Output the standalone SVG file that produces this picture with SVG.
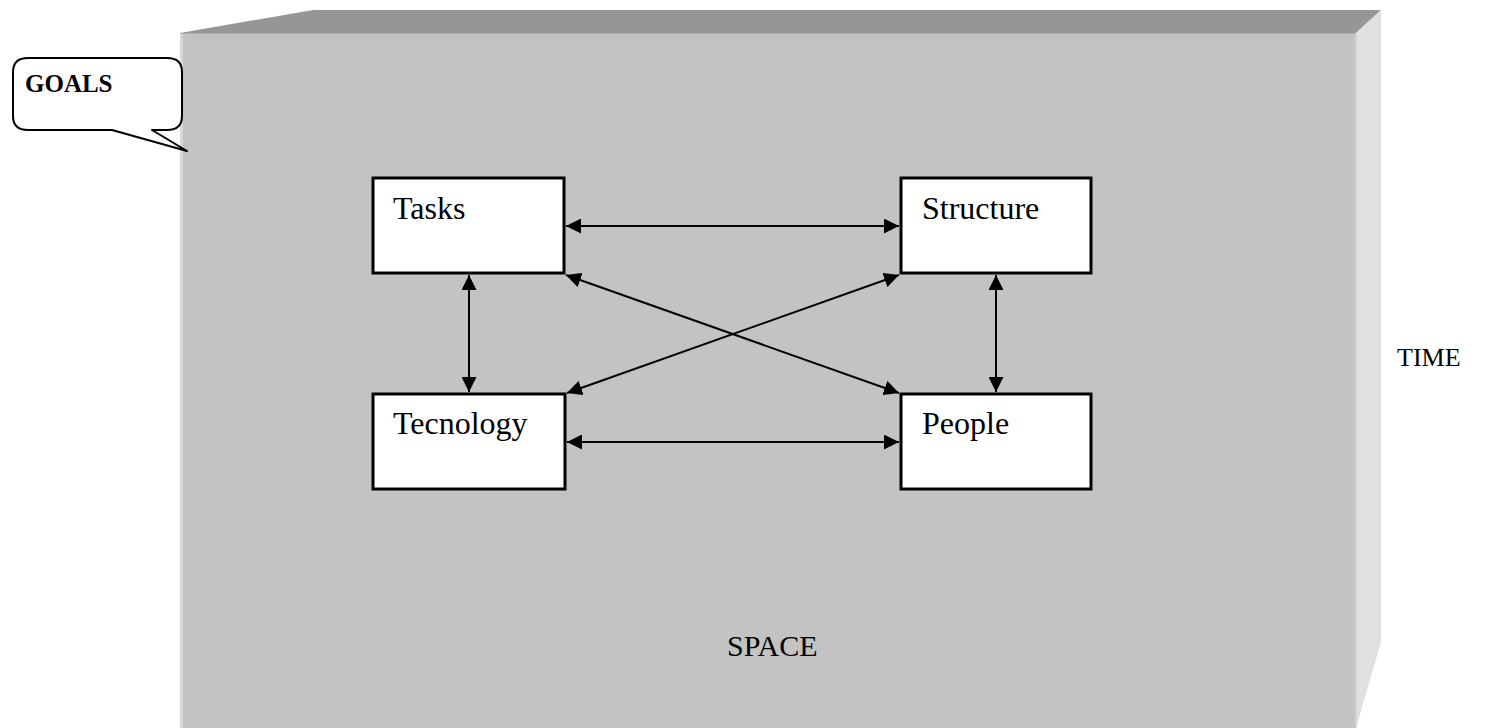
<svg xmlns="http://www.w3.org/2000/svg" width="1499" height="728" viewBox="0 0 1499 728">
<style>
.node rect{fill:#fff;stroke:#000;stroke-width:3}
.lbl{font-family:"Liberation Serif","Times New Roman",serif;font-size:32px;fill:#000}
.conn line{stroke:#000;stroke-width:2;marker-start:url(#ah);marker-end:url(#ah)}
</style>
<defs>
<marker id="ah" viewBox="0 0 15 15" refX="15" refY="7.5" markerWidth="15" markerHeight="15" markerUnits="userSpaceOnUse" orient="auto-start-reverse">
<path d="M0,0 L15,7.5 L0,15 Z" fill="#000"/>
</marker>
</defs>
<rect width="1499" height="728" fill="#fff"/>
<g id="box3d">
<polygon points="180,33 313,10 1381,10 1356,33" fill="#969696"/>
<polygon points="1356,33 1381,10 1381,642 1356,728" fill="#e0e0e0"/>
<rect x="180" y="33" width="1176" height="695" fill="#c3c3c3"/>
<rect x="180" y="33" width="3" height="695" fill="#d9d9d9"/>
<line x1="180" y1="33.5" x2="1356" y2="33.5" stroke="#aaaaaa" stroke-width="1"/>
<rect x="1355" y="33" width="2" height="695" fill="#d4d4d4"/>
</g>
<g id="goals">
<path d="M28,58 L167,58 Q182,58 182,72 L182,116 Q182,130 167,130 L152,130 L187,151 L112,130 L28,130 Q13,130 13,116 L13,72 Q13,58 28,58 Z" fill="#fff" stroke="#000" stroke-width="2" stroke-linejoin="round"/>
<text x="25" y="92" font-family="Liberation Serif,'Times New Roman',serif" font-size="25" font-weight="bold">GOALS</text>
</g>
<g id="tasks" class="node"><rect x="373" y="178" width="191" height="95"/><text class="lbl" x="393" y="219">Tasks</text></g>
<g id="structure" class="node"><rect x="901" y="178" width="190" height="95"/><text class="lbl" x="922" y="219">Structure</text></g>
<g id="tecnology" class="node"><rect x="373" y="394" width="192" height="95"/><text class="lbl" x="393" y="434">Tecnology</text></g>
<g id="people" class="node"><rect x="901" y="394" width="190" height="95"/><text class="lbl" x="922" y="434">People</text></g>
<g id="connectors" class="conn">
<line x1="566" y1="226" x2="899" y2="226"/>
<line x1="567" y1="442" x2="899" y2="442"/>
<line x1="469" y1="275" x2="469" y2="392"/>
<line x1="996" y1="275" x2="996" y2="392"/>
<line x1="566" y1="275" x2="899" y2="393"/>
<line x1="899" y1="275" x2="567" y2="393"/>
</g>
<text x="1397" y="366" font-family="Liberation Serif,'Times New Roman',serif" font-size="26">TIME</text>
<text x="727" y="656" font-family="Liberation Serif,'Times New Roman',serif" font-size="30">SPACE</text>
</svg>
